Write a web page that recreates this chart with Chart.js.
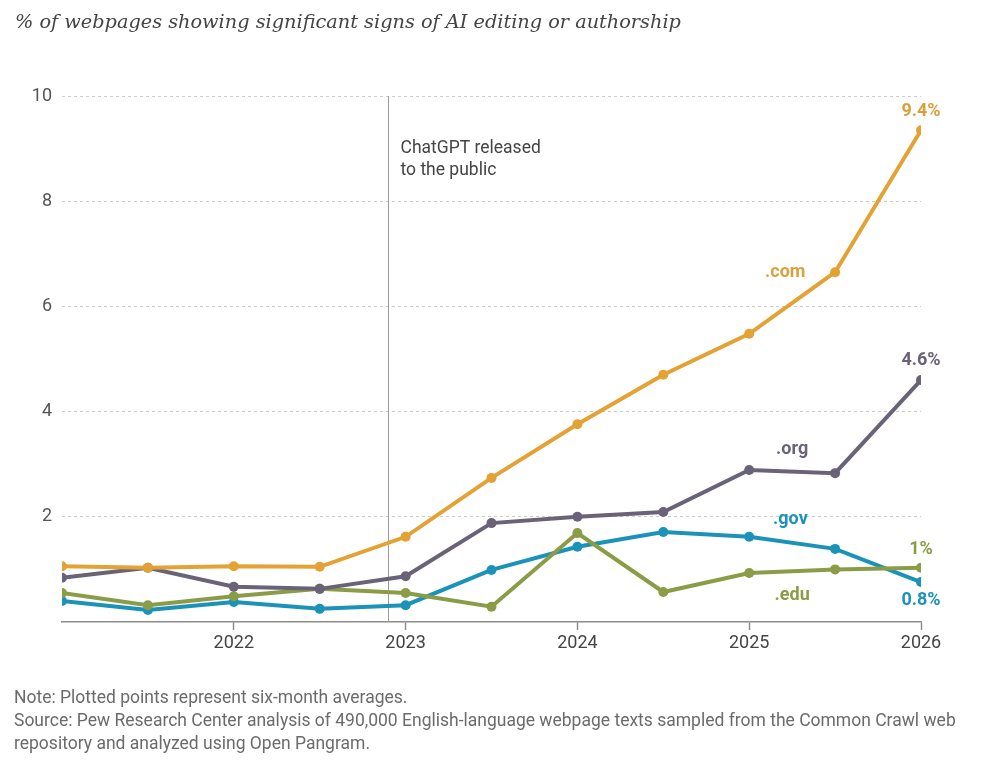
<!DOCTYPE html>
<html>
<head>
<meta charset="utf-8">
<script src="https://cdn.jsdelivr.net/npm/chart.js@4.4.1/dist/chart.umd.min.js"></script>
<style>
  html, body { margin: 0; padding: 0; background: #fff; }
  #wrap { width: 996px; height: 768px; position: relative; }
</style>
</head>
<body>
<div id="wrap"><canvas id="myChart" width="996" height="768"></canvas></div>
<script>
// six-month averages, x = year
const periods = [2021, 2021.5, 2022, 2022.5, 2023, 2023.5, 2024, 2024.5, 2025, 2025.5, 2026];
const yearTicks = [2022, 2023, 2024, 2025, 2026];
const comValues = [1.06, 1.03, 1.06, 1.05, 1.62, 2.74, 3.76, 4.70, 5.48, 6.65, 9.35];
const orgValues = [0.84, 1.03, 0.67, 0.63, 0.87, 1.88, 2.00, 2.09, 2.89, 2.83, 4.60];
const govValues = [0.40, 0.23, 0.38, 0.25, 0.32, 0.99, 1.43, 1.71, 1.62, 1.39, 0.76];
const eduValues = [0.55, 0.32, 0.49, 0.63, 0.55, 0.29, 1.69, 0.57, 0.93, 1.00, 1.03];
const chatgptRelease = 2022.9;

const colors = { com: '#e4a235', org: '#6a6377', gov: '#1b93b9', edu: '#8b9c46' };
const sans = 'Roboto, "Liberation Sans", sans-serif';

function pts(vals) {
  return vals.map((v, i) => ({ x: periods[i], y: v }));
}

function series(label, vals, color) {
  return {
    label: label,
    data: pts(vals),
    borderColor: color,
    backgroundColor: color,
    borderWidth: 4,
    pointRadius: 5,
    pointHoverRadius: 5,
    pointBorderWidth: 0,
    tension: 0
  };
}

// text labels tied to data coordinates
const seriesLabels = [
  { text: '.com', x: 2025.21, y: 6.64, color: '#d9a13c' },
  { text: '9.4%', x: 2026, y: 9.7, color: '#d9a13c' },
  { text: '.org', x: 2025.25, y: 3.27, color: colors.org },
  { text: '4.6%', x: 2026, y: 4.98, color: colors.org },
  { text: '.gov', x: 2025.24, y: 1.95, color: colors.gov },
  { text: '1%', x: 2026, y: 1.38, color: colors.edu },
  { text: '.edu', x: 2025.25, y: 0.5, color: colors.edu },
  { text: '0.8%', x: 2026, y: 0.4, color: colors.gov }
];

const extras = {
  id: 'extras',
  beforeDatasetsDraw(chart) {
    const { ctx, chartArea } = chart;
    const xs = chart.scales.x;
    const px = Math.round(xs.getPixelForValue(chatgptRelease)) + 0.5;
    ctx.save();
    ctx.strokeStyle = '#9a9a9a';
    ctx.lineWidth = 1;
    ctx.beginPath();
    ctx.moveTo(px, chartArea.top);
    ctx.lineTo(px, chartArea.bottom);
    ctx.stroke();
    ctx.fillStyle = '#444';
    ctx.font = '17.5px ' + sans;
    ctx.textBaseline = 'middle';
    ctx.fillText('ChatGPT released', px + 12, 149);
    ctx.fillText('to the public', px + 12, 171);
    ctx.restore();
  },
  afterDraw(chart) {
    const { ctx } = chart;
    const xs = chart.scales.x, ys = chart.scales.y;
    ctx.save();
    ctx.fillStyle = '#444';
    ctx.font = 'italic 19.3px "DejaVu Serif", Georgia, serif';
    ctx.textBaseline = 'alphabetic';
    ctx.fillText('% of webpages showing significant signs of AI editing or authorship', 15, 28);

    ctx.font = 'bold 18px ' + sans;
    ctx.textAlign = 'center';
    ctx.textBaseline = 'middle';
    seriesLabels.forEach(l => {
      ctx.fillStyle = l.color;
      ctx.fillText(l.text, xs.getPixelForValue(l.x), ys.getPixelForValue(l.y));
    });

    ctx.textAlign = 'left';
    ctx.fillStyle = '#6b6b6b';
    ctx.font = '17.5px ' + sans;
    ctx.fillText('Note: Plotted points represent six-month averages.', 14, 699);
    ctx.fillText('Source: Pew Research Center analysis of 490,000 English-language webpage texts sampled from the Common Crawl web', 14, 722);
    ctx.fillText('repository and analyzed using Open Pangram.', 14, 745);
    ctx.restore();
  }
};

const ctx = document.getElementById('myChart').getContext('2d');
new Chart(ctx, {
  type: 'line',
  data: {
    datasets: [
      series('.com', comValues, colors.com),
      series('.org', orgValues, colors.org),
      series('.edu', eduValues, colors.edu),
      series('.gov', govValues, colors.gov)
    ]
  },
  plugins: [extras],
  options: {
    responsive: false,
    animation: false,
    layout: { padding: { top: 96, right: 75, bottom: 106, left: 0 } },
    plugins: {
      legend: { display: false },
      tooltip: { enabled: false }
    },
    scales: {
      x: {
        type: 'linear',
        min: 2021,
        max: 2026,
        afterBuildTicks(scale) {
          scale.ticks = yearTicks.map(v => ({ value: v }));
        },
        afterFit(scale) { scale.height = 40; },
        border: { display: true, color: '#8c8c8c', width: 1.5 },
        grid: {
          drawOnChartArea: false,
          drawTicks: true,
          tickLength: 8,
          tickColor: '#8c8c8c',
          tickWidth: 1.5
        },
        ticks: {
          color: '#444',
          padding: 3,
          maxRotation: 0,
          font: { family: sans, size: 18 },
          callback: v => String(v)
        }
      },
      y: {
        min: 0,
        max: 10,
        afterFit(scale) { scale.width = 62; },
        border: { display: false, dash: [3, 3] },
        grid: {
          color: ctx => ctx.tick && ctx.tick.value === 0 ? 'rgba(0,0,0,0)' : '#cccccc',
          lineWidth: 1,
          drawTicks: false
        },
        ticks: {
          stepSize: 2,
          padding: 10,
          color: '#555',
          font: { family: sans, size: 18 },
          callback: v => v === 0 ? '' : v
        }
      }
    }
  }
});
</script>
</body>
</html>
